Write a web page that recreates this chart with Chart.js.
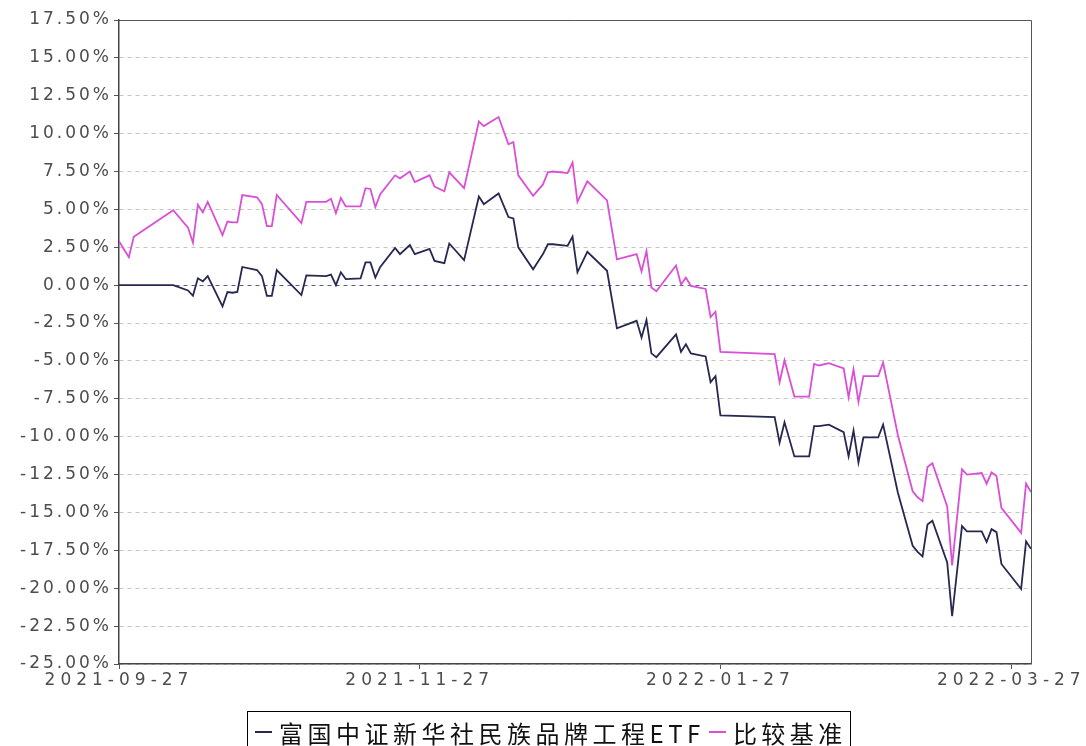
<!DOCTYPE html>
<html>
<head>
<meta charset="utf-8">
<script src="https://cdn.jsdelivr.net/npm/chart.js@4/dist/chart.umd.min.js"></script>
<style>
  html, body { margin: 0; padding: 0; background: #fff; overflow: hidden; }
  #wrap { position: relative; width: 1086px; height: 746px; }
  #legend {
    position: absolute; left: 247px; top: 711px; width: 602px; height: 40px;
    border: 1px solid #000; display: flex; align-items: center; justify-content: center;
    font-family: "Noto Sans CJK SC", sans-serif; font-size: 24px; color: #111; letter-spacing: 4.5px;
  }
  #legend .sw { display: inline-block; width: 17px; height: 2px; margin: 0 7px 0 4px; }
</style>
</head>
<body>
<div id="wrap">
  <canvas id="c" width="1086" height="746"></canvas>
  <div id="legend"></div>
</div>
<script>
// --- data (cumulative return, %) ---
const dates = [
  '2021-09-27','2021-09-29','2021-09-30','2021-10-08','2021-10-11','2021-10-12','2021-10-13','2021-10-14','2021-10-15','2021-10-18',
  '2021-10-19','2021-10-20','2021-10-21','2021-10-22','2021-10-25','2021-10-26','2021-10-27','2021-10-28','2021-10-29','2021-11-03',
  '2021-11-04','2021-11-08','2021-11-09','2021-11-10','2021-11-11','2021-11-12','2021-11-15','2021-11-16','2021-11-17','2021-11-18',
  '2021-11-19','2021-11-22','2021-11-23','2021-11-25','2021-11-26','2021-11-29','2021-11-30','2021-12-02','2021-12-03','2021-12-06',
  '2021-12-09','2021-12-10','2021-12-13','2021-12-15','2021-12-16','2021-12-17','2021-12-20','2021-12-22','2021-12-23','2021-12-24',
  '2021-12-27','2021-12-28','2021-12-29','2021-12-31','2022-01-04','2022-01-06','2022-01-10','2022-01-11','2022-01-12','2022-01-13',
  '2022-01-14','2022-01-18','2022-01-19','2022-01-20','2022-01-21','2022-01-24','2022-01-25','2022-01-26','2022-01-27','2022-02-07',
  '2022-02-08','2022-02-09','2022-02-11','2022-02-14','2022-02-15','2022-02-16','2022-02-18','2022-02-21','2022-02-22','2022-02-23',
  '2022-02-24','2022-02-25','2022-02-28','2022-03-01','2022-03-04','2022-03-07','2022-03-08','2022-03-09','2022-03-10','2022-03-11',
  '2022-03-14','2022-03-15','2022-03-17','2022-03-18','2022-03-21','2022-03-22','2022-03-23','2022-03-24','2022-03-25','2022-03-29',
  '2022-03-30','2022-03-31'
];
const fundValues = [
  0, 0, 0, 0, -0.35, -0.7, 0.45, 0.25, 0.6, -1.4,
  -0.45, -0.5, -0.45, 1.2, 1.0, 0.6, -0.7, -0.7, 1.0, -0.65,
  0.65, 0.6, 0.7, 0.0, 0.85, 0.4, 0.45, 1.5, 1.5, 0.5,
  1.2, 2.45, 2.05, 2.65, 2.05, 2.4, 1.6, 1.45, 2.75, 1.65,
  5.85, 5.35, 6.05, 4.5, 4.4, 2.5, 1.05, 2.05, 2.7, 2.7,
  2.6, 3.2, 0.85, 2.2, 0.95, -2.85, -2.35, -3.45, -2.3, -4.5,
  -4.75, -3.25, -4.4, -3.9, -4.5, -4.7, -6.4, -6.0, -8.6, -8.7,
  -10.4, -9.05, -11.3, -11.3, -9.3, -9.3, -9.2, -9.7, -11.3, -9.6,
  -11.7, -10.05, -10.05, -9.2, -13.7, -17.2, -17.6, -17.9, -15.8, -15.55,
  -18.3, -21.85, -15.9, -16.25, -16.25, -16.95, -16.1, -16.3, -18.4, -20.05,
  -16.9, -17.4
];
const benchValues = [
  2.9, 1.85, 3.2, 4.95, 3.8, 2.8, 5.3, 4.8, 5.5, 3.3,
  4.2, 4.15, 4.15, 5.95, 5.8, 5.35, 3.9, 3.9, 5.95, 4.1,
  5.5, 5.5, 5.7, 4.75, 5.75, 5.2, 5.2, 6.4, 6.35, 5.15,
  6.0, 7.25, 7.05, 7.5, 6.8, 7.25, 6.5, 6.2, 7.45, 6.4,
  10.8, 10.5, 11.1, 9.3, 9.45, 7.25, 5.9, 6.65, 7.45, 7.5,
  7.4, 8.1, 5.5, 6.85, 5.6, 1.7, 2.05, 0.9, 2.25, -0.15,
  -0.4, 1.3, 0.05, 0.5, -0.05, -0.25, -2.1, -1.75, -4.4, -4.55,
  -6.4, -4.95, -7.35, -7.35, -5.2, -5.3, -5.15, -5.5, -7.4, -5.55,
  -7.7, -6.0, -6.0, -5.1, -9.9, -13.6, -14.0, -14.25, -12.0, -11.75,
  -14.6, -18.5, -12.15, -12.5, -12.4, -13.1, -12.35, -12.6, -14.7, -16.35,
  -13.1, -13.65
];
const seriesNames = ['富国中证新华社民族品牌工程ETF', '比较基准'];
const seriesColors = ['#26284f', '#d94fd6'];
const xTickLabels = ['2021-09-27', '2021-11-27', '2022-01-27', '2022-03-27'];
const xStart = '2021-09-27';
const xEnd = '2022-03-31';

// days since start, so the x axis keeps real calendar spacing
const dayOf = s => {
  const [y, m, d] = s.split('-').map(Number);
  const [y0, m0, d0] = xStart.split('-').map(Number);
  return Math.round((Date.UTC(y, m - 1, d) - Date.UTC(y0, m0 - 1, d0)) / 86400000);
};
const xTickDays = xTickLabels.map(dayOf);

const toPoints = vals => dates.map((d, i) => ({ x: dayOf(d), y: vals[i] }));

// legend (html, with the boxed look of the original)
document.getElementById('legend').innerHTML = seriesNames.map((n, i) =>
  `<span class="sw" style="background:${seriesColors[i]}"></span><span>${n}</span>`
).join('');

// wide, spaced-out tick text like the original; y labels are drawn before the
// datasets, x labels (ticks.z:1) after them, so each gets its own spacing
const framePlugin = {
  id: 'frame',
  beforeUpdate(chart) { chart.ctx.letterSpacing = '3px'; },
  beforeDraw(chart) { chart.ctx.letterSpacing = '3px'; },
  afterDatasetsDraw(chart) {
    const { ctx, chartArea: a } = chart;
    ctx.save();
    ctx.strokeStyle = '#555';
    ctx.lineWidth = 1;
    ctx.beginPath();
    ctx.moveTo(a.left, a.top + 0.5);
    ctx.lineTo(a.right + 0.5, a.top + 0.5);
    ctx.lineTo(a.right + 0.5, a.bottom);
    ctx.stroke();
    ctx.restore();
    ctx.letterSpacing = '5px';
  }
};

const tickFont = { family: 'DejaVu Sans', size: 17 };

new Chart(document.getElementById('c'), {
  type: 'line',
  data: {
    datasets: [
      { label: seriesNames[0], data: toPoints(fundValues), borderColor: seriesColors[0], borderWidth: 1.8, pointRadius: 0, tension: 0 },
      { label: seriesNames[1], data: toPoints(benchValues), borderColor: seriesColors[1], borderWidth: 1.8, pointRadius: 0, tension: 0 }
    ]
  },
  options: {
    responsive: false,
    animation: false,
    layout: { padding: { top: 20, right: 55, bottom: 50, left: 0 } },
    plugins: { legend: { display: false }, tooltip: { enabled: false } },
    scales: {
      x: {
        type: 'linear',
        min: 0,
        max: dayOf(xEnd),
        afterBuildTicks: s => { s.ticks = xTickDays.map(v => ({ value: v })); },
        afterFit: s => { s.height = 32; },
        ticks: {
          z: 1,
          font: tickFont, color: '#4d4d4d', padding: 1, maxRotation: 0, autoSkip: false,
          callback: v => xTickLabels[xTickDays.indexOf(v)] || ''
        },
        grid: { drawOnChartArea: false, drawTicks: true, tickLength: 5, tickColor: '#555' },
        border: { display: true, color: '#444', width: 1.5 }
      },
      y: {
        min: -25,
        max: 17.5,
        afterFit: s => { s.width = 119; },
        ticks: { stepSize: 2.5, font: tickFont, color: '#4d4d4d', padding: 2, callback: v => v.toFixed(2) + '%' },
        grid: {
          color: c => (c.tick && c.tick.value === 0) ? '#5a5a96' : '#c4c4c4',
          lineWidth: 1,
          tickLength: 5,
          tickColor: '#555',
          tickBorderDash: []
        },
        border: { display: true, color: '#444', width: 1.5, dash: [4, 4] }
      }
    }
  },
  plugins: [framePlugin]
});
</script>
</body>
</html>
